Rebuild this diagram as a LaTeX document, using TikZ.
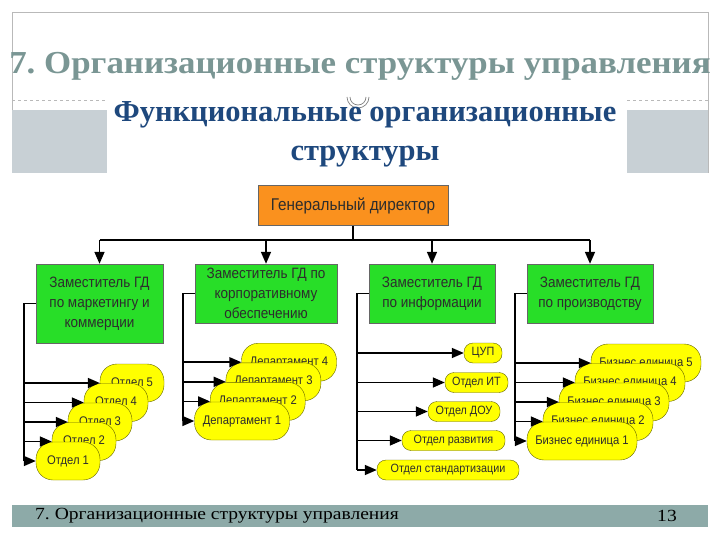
\documentclass[tikz,border=0pt]{standalone}
\usepackage{fontspec}
\setmainfont{Liberation Serif}
\newfontfamily\chartfont[FakeStretch=0.9]{Liberation Sans}
\newfontfamily\titlefont[FakeStretch=1.09]{Liberation Serif}
\newfontfamily\footfont[FakeStretch=1.15]{Liberation Serif}
\usetikzlibrary{arrows.meta}
\definecolor{titlegray}{RGB}{122,150,148}
\definecolor{framegray}{RGB}{185,185,185}
\definecolor{blockgray}{RGB}{200,208,213}
\definecolor{subblue}{RGB}{30,72,125}
\definecolor{footerbar}{RGB}{141,170,168}
\definecolor{gdorange}{RGB}{250,145,30}
\definecolor{depgreen}{RGB}{40,222,40}
\definecolor{pillyellow}{RGB}{255,255,0}
\definecolor{pillborder}{RGB}{100,100,0}
\definecolor{txtdark}{RGB}{45,45,45}
\tikzset{
  gdbox/.style={draw=black!60, fill=gdorange, minimum width=190pt, minimum height=40pt, inner sep=0pt,
    font=\chartfont\fontsize{17}{20}\selectfont, text=txtdark},
  depbox/.style={draw=black!60, fill=depgreen, minimum width=126pt, minimum height=59pt, inner sep=0pt,
    align=center, font=\chartfont\fontsize{15}{20}\selectfont, text=txtdark},
  bigpill/.style={draw=pillborder, fill=pillyellow, rounded corners=17pt, minimum height=38pt, inner sep=0pt,
    font=\chartfont\fontsize{12.5}{14}\selectfont, text=txtdark},
  smallpill/.style={draw=pillborder, fill=pillyellow, rounded corners=9pt, minimum height=20pt, inner sep=0pt,
    font=\chartfont\fontsize{12}{14}\selectfont, text=txtdark},
  conn/.style={line width=1.6pt, black},
  arr/.style={conn, -{Triangle[length=12pt,width=10pt]}}
}
\begin{document}
\frenchspacing
\begin{tikzpicture}[x=1pt,y=-1pt]
\useasboundingbox (0,0) rectangle (720,540);
\fill[white] (0,0) rectangle (720,540);
% slide frame
\draw[framegray, line width=0.8pt] (12,173) -- (12,12) -- (708,12) -- (708,173);
\fill[blockgray] (12,110) rectangle (107,173);
\fill[blockgray] (627,110) rectangle (708,173);
\draw[framegray, dashed, line width=0.8pt] (12,100) -- (107,100);
\draw[framegray, dashed, line width=0.8pt] (627,100) -- (708,100);
\draw[gray, line width=0.7pt] (347,97) arc[start angle=180, end angle=0, radius=11];
\draw[gray, line width=0.7pt] (350,97) arc[start angle=180, end angle=0, radius=8];
% titles
\node[text=titlegray, font=\titlefont\bfseries\fontsize{32}{36}\selectfont] (title) at (360,66) {7. Организационные структуры управления};
\node[text=subblue, align=center, font=\bfseries\fontsize{30.5}{39}\selectfont] (sub) at (365,134) {Функциональные организационные\\структуры};
% footer
\fill[footerbar] (12,505) rectangle (708,527);
\node[anchor=west, inner sep=0pt, font=\footfont\fontsize{17}{20}\selectfont] (foot) at (35,516) {7. Организационные структуры управления};
\node[inner sep=0pt, font=\footfont\fontsize{17}{20}\selectfont] (page) at (667,516) {13};
% chart
\node[gdbox] (gd) at (353,205.5) {Генеральный директор};
\node[depbox, minimum width=127pt, minimum height=79pt] (d1) at (99.5,303.5) {Заместитель ГД\\по маркетингу и\\коммерции};
\node[depbox, minimum width=142pt] (d2) at (266,293.5) {Заместитель ГД по\\корпоративному\\обеспечению};
\node[depbox] (d3) at (432,293.5) {Заместитель ГД\\по информации};
\node[depbox] (d4) at (590,293.5) {Заместитель ГД\\по производству};
\coordinate (bus) at (353,240);
\draw[conn] (gd.south) -- (bus);
\draw[conn] (bus -| d1.north) -- (bus -| d4.north);
\foreach \d in {d1,d2,d3,d4} \draw[arr] (bus -| \d.north) -- (\d.north);
% group 1
\foreach \k/\dx/\dy in {5/64/-78,4/48/-58.5,3/32/-39,2/16/-19.5,1/0/0}
  \node[bigpill, minimum width=64pt] (o\k) at (68+\dx,461+\dy) {Отдел \k};
\coordinate (s1) at (24,0);
\draw[conn] (d1.west) -- (d1.west -| s1) -- (o1.west -| s1);
\foreach \k in {1,...,5} \draw[arr] (o\k.west -| s1) -- (o\k.west);
% group 2
\foreach \k/\dx/\dy in {4/47/-58.8,3/31.4/-39.2,2/15.7/-19.6,1/0/0}
  \node[bigpill, minimum width=95pt] (p\k) at (242+\dx,421+\dy) {Департамент \k};
\coordinate (s2) at (183,0);
\draw[conn] (d2.west) -- (d2.west -| s2) -- (p1.west -| s2);
\foreach \k in {1,...,4} \draw[arr] (p\k.west -| s2) -- (p\k.west);
% group 3
\node[smallpill, minimum width=38pt] (i1) at (483,353) {ЦУП};
\node[smallpill, minimum width=63pt] (i2) at (476.5,382.5) {Отдел ИТ};
\node[smallpill, minimum width=72pt] (i3) at (464,411.5) {Отдел ДОУ};
\node[smallpill, minimum width=103pt] (i4) at (453.5,440.5) {Отдел развития};
\node[smallpill, minimum width=142pt] (i5) at (448,470) {Отдел стандартизации};
\coordinate (s3) at (357,0);
\draw[conn] (d3.west) -- (d3.west -| s3) -- (i5.west -| s3);
\foreach \k in {1,...,5} \draw[arr] (i\k.west -| s3) -- (i\k.west);
% group 4
\foreach \k/\dx/\dy in {5/64/-78,4/48/-58.5,3/32/-39,2/16/-19.5,1/0/0}
  \node[bigpill, minimum width=110pt] (b\k) at (582+\dx,441+\dy) {Бизнес единица \k};
\coordinate (s4) at (515,0);
\draw[conn] (d4.west) -- (d4.west -| s4) -- (b1.west -| s4);
\foreach \k in {1,...,5} \draw[arr] (b\k.west -| s4) -- (b\k.west);
\end{tikzpicture}
\end{document}
